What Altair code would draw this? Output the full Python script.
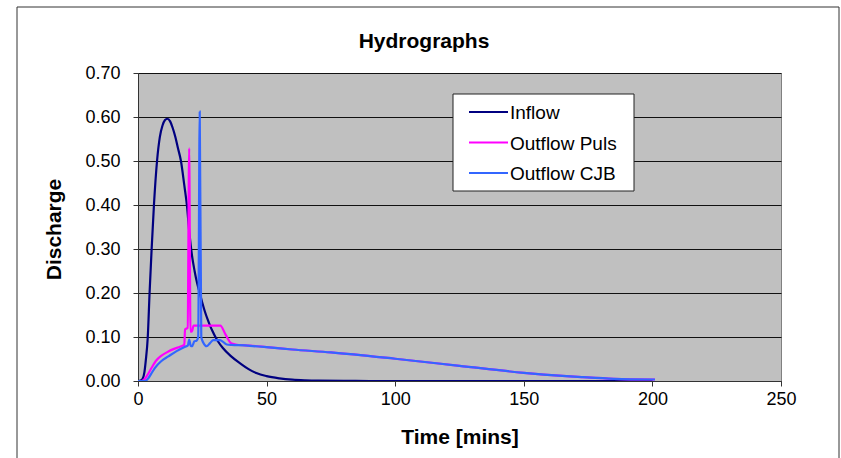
import altair as alt
import pandas as pd

# ---------------- data ----------------
series_names = ["Inflow", "Outflow Puls", "Outflow CJB"]
series_colors = ["#000080", "#FF00FF", "#3366FF"]

t_inflow = [0, 1, 1.8, 2.5, 3, 3.8, 4.5, 5.3, 6.2, 7.4, 8.5, 9.5, 10.5, 11.4, 12.5,
            13.5, 14.5, 15.5, 16.7, 18, 19, 20, 21, 22, 23, 24, 25, 26, 27, 28, 29,
            30, 31, 33, 36, 40, 43, 46, 50, 55, 60, 65, 70, 80, 90, 120, 160, 200]
q_inflow = [0, 0.001, 0.005, 0.02, 0.045, 0.10, 0.20, 0.30, 0.40, 0.50, 0.555, 0.58,
            0.593, 0.596, 0.59, 0.575, 0.555, 0.53, 0.50, 0.445, 0.40, 0.335, 0.285,
            0.25, 0.222, 0.20, 0.178, 0.158, 0.141, 0.126, 0.113, 0.101, 0.091, 0.075,
            0.057, 0.039, 0.027, 0.018, 0.011, 0.006, 0.003, 0.0015, 0.0007, 0.0002,
            0, 0, 0, 0]

t_puls = [0, 1.4, 2.5, 3.5, 5.3, 7, 9, 11.8, 14, 16.3, 18.0, 18.3, 19.3, 19.9, 20.4,
          21.0, 21.6, 32.0, 34.0, 36.2, 38, 41.6, 43.5, 50, 60, 75, 100, 125, 150,
          165, 173, 185, 201]
q_puls = [0, 0, 0.004, 0.012, 0.03, 0.046, 0.057, 0.067, 0.073, 0.078, 0.082, 0.117,
          0.121, 0.529, 0.112, 0.113, 0.126, 0.126, 0.106, 0.086, 0.083, 0.081,
          0.0803, 0.077, 0.0716, 0.065, 0.0505, 0.0345, 0.0186, 0.0115, 0.0086,
          0.005, 0.0034]

t_cjb = [0, 2.7, 4, 5, 6.6, 9, 11.8, 15, 18.3, 19.4, 19.9, 20.5, 21.0, 21.9, 22.8,
         23.4, 24.0, 24.6, 25.4, 26.7, 28.0, 29.3, 31.9, 34.5, 36.4, 41.6, 43.5, 50,
         60, 75, 100, 125, 150, 165, 173, 185, 201]
q_cjb = [0, 0, 0.006, 0.015, 0.03, 0.045, 0.056, 0.068, 0.078, 0.081, 0.094, 0.08,
         0.079, 0.09, 0.092, 0.10, 0.612, 0.10, 0.087, 0.079, 0.086, 0.093, 0.093,
         0.083, 0.082, 0.081, 0.0800, 0.077, 0.0716, 0.065, 0.0505, 0.0345, 0.0186,
         0.0115, 0.0086, 0.005, 0.0034]

x_ticks = [0, 50, 100, 150, 200, 250]
y_ticks = [0, 0.1, 0.2, 0.3, 0.4, 0.5, 0.6, 0.7]

frames = []
for name, ts, qs in zip(series_names, [t_inflow, t_puls, t_cjb], [q_inflow, q_puls, q_cjb]):
    frames.append(pd.DataFrame({"t": ts, "q": qs, "series": name}))
df = pd.concat(frames, ignore_index=True)
one = pd.DataFrame({"k": [0]})  # single row for annotation marks

FONT = "Liberation Sans"
W, H = 643, 308

xs = alt.X("t:Q", scale=alt.Scale(domain=[0, 250], nice=False),
           axis=alt.Axis(values=x_ticks, title="Time [mins]", grid=False,
                         labelFontSize=18, labelPadding=4, tickSize=5,
                         titleFontSize=21, titleFontWeight="bold",
                         titleY=62, titleBaseline="alphabetic",
                         labelFlush=False))
ys = alt.Y("q:Q", scale=alt.Scale(domain=[0, 0.7], nice=False),
           axis=alt.Axis(values=y_ticks, format=".2f", title="Discharge",
                         labelFontSize=18, labelPadding=13, tickSize=5,
                         grid=True, gridColor="#111111", gridWidth=1,
                         titleFontSize=21, titleFontWeight="bold",
                         titleX=-84, titleY=156, titleAngle=270,
                         titleAlign="center", titleBaseline="middle"))

layers = []
for name, col in zip(series_names, series_colors):
    layers.append(
        alt.Chart(df).transform_filter(alt.datum.series == name)
        .mark_line(color=col, strokeWidth=2.2, interpolate="monotone", clip=True)
        .encode(x=xs, y=ys)
    )

# legend (drawn box + entries)
leg_x0, leg_y0 = 453 - 138, 94 - 73
legend_box = alt.Chart(one).mark_rect(fill="white", stroke="#222222", strokeWidth=1).encode(
    x=alt.value(leg_x0), x2=alt.value(leg_x0 + 181),
    y=alt.value(leg_y0), y2=alt.value(leg_y0 + 97))
legend_parts = [legend_box]
for i, (name, col) in enumerate(zip(series_names, series_colors)):
    yy = leg_y0 + 18 + i * 30.5
    legend_parts.append(
        alt.Chart(one).mark_rule(color=col, strokeWidth=2).encode(
            x=alt.value(leg_x0 + 16), x2=alt.value(leg_x0 + 55), y=alt.value(yy)))
    legend_parts.append(
        alt.Chart(one).mark_text(text=name, font=FONT, fontSize=19, align="left",
                                 baseline="middle", color="black").encode(
            x=alt.value(leg_x0 + 57), y=alt.value(yy + 1)))

title = alt.Chart(one).mark_text(text="Hydrographs", font=FONT, fontSize=21,
                                 fontWeight="bold", align="center",
                                 baseline="alphabetic", color="black").encode(
    x=alt.value(424 - 138), y=alt.value(48 - 73))

# outer chart border
border_left = alt.Chart(one).mark_rule(color="#333333", strokeWidth=1).encode(
    x=alt.value(17 - 138), y=alt.value(7 - 73), y2=alt.value(460 - 73))
border_top = alt.Chart(one).mark_rule(color="#333333", strokeWidth=1).encode(
    x=alt.value(17 - 138), x2=alt.value(839 - 138), y=alt.value(7 - 73))
border_right = alt.Chart(one).mark_rule(color="#333333", strokeWidth=1).encode(
    x=alt.value(839 - 138), y=alt.value(7 - 73), y2=alt.value(460 - 73))

chart = alt.layer(
    *layers, *legend_parts, title, border_left, border_top, border_right
).properties(
    width=W, height=H,
    autosize=alt.AutoSizeParams(type="none"),
    padding={"left": 138, "top": 73, "right": 841 - 138 - W, "bottom": 458 - 73 - H},
    background="white",
).configure_view(
    fill="#C0C0C0", stroke="#808080", strokeWidth=1
).configure_axis(
    labelFont=FONT, titleFont=FONT, labelColor="black", titleColor="black",
    domainColor="#333333", tickColor="#333333", domainWidth=1, tickWidth=1,
)

chart.save("out.html", embed_options={"renderer": "svg", "actions": False})
